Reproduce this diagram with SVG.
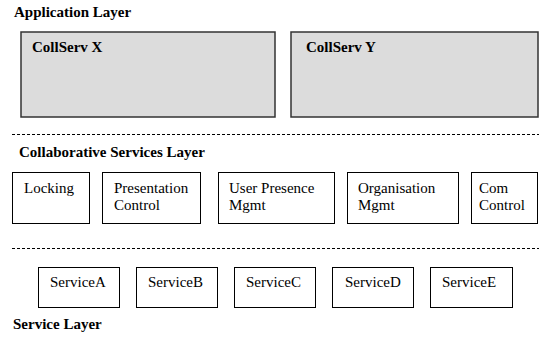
<svg xmlns="http://www.w3.org/2000/svg" width="539" height="345" viewBox="0 0 539 345">
<style>
  text { font-family: "Liberation Serif", "Times New Roman", serif; fill: #000; }
  .h { font-size: 15px; font-weight: bold; }
  .t { font-size: 15px; }
  .app { fill: #dcdcdc; stroke: #333; stroke-width: 1.5; }
  .box { fill: #fff; stroke: #000; stroke-width: 1; }
  .dash { stroke: #000; stroke-width: 1; stroke-dasharray: 3 2; fill: none; }
</style>
<rect width="539" height="345" fill="#fff"/>
<text class="h" x="14" y="17">Application Layer</text>
<g id="collserv-x">
  <rect class="app" x="21" y="32" width="254" height="85"/>
  <text class="h" x="32" y="52">CollServ X</text>
</g>
<g id="collserv-y">
  <rect class="app" x="291" y="32" width="247" height="85"/>
  <text class="h" x="306" y="52">CollServ Y</text>
</g>
<g id="separators">
  <line class="dash" x1="12" y1="134.5" x2="539" y2="134.5"/>
  <line class="dash" x1="12" y1="248.5" x2="539" y2="248.5"/>
</g>
<text class="h" x="19" y="157">Collaborative Services Layer</text>
<g id="locking">
  <rect class="box" x="12.5" y="172.5" width="77" height="51"/>
  <text class="t" x="24" y="193">Locking</text>
</g>
<g id="presentation-control">
  <rect class="box" x="102.5" y="172.5" width="98" height="51"/>
  <text class="t" x="114" y="193">Presentation</text>
  <text class="t" x="114" y="210">Control</text>
</g>
<g id="user-presence">
  <rect class="box" x="218.5" y="172.5" width="116" height="51"/>
  <text class="t" x="229" y="193">User Presence</text>
  <text class="t" x="229" y="210">Mgmt</text>
</g>
<g id="organisation">
  <rect class="box" x="347.5" y="172.5" width="111" height="51"/>
  <text class="t" x="358" y="193">Organisation</text>
  <text class="t" x="358" y="210">Mgmt</text>
</g>
<g id="com-control">
  <rect class="box" x="471.5" y="172.5" width="66" height="51"/>
  <text class="t" x="479" y="193">Com</text>
  <text class="t" x="479" y="210">Control</text>
</g>
<g id="serviceA">
  <rect class="box" x="38.5" y="267.5" width="81" height="40"/>
  <text class="t" x="50" y="287">ServiceA</text>
</g>
<g id="serviceB">
  <rect class="box" x="136.5" y="267.5" width="81" height="40"/>
  <text class="t" x="148" y="287">ServiceB</text>
</g>
<g id="serviceC">
  <rect class="box" x="234.5" y="267.5" width="81" height="40"/>
  <text class="t" x="246" y="287">ServiceC</text>
</g>
<g id="serviceD">
  <rect class="box" x="332.5" y="267.5" width="81" height="40"/>
  <text class="t" x="345" y="287">ServiceD</text>
</g>
<g id="serviceE">
  <rect class="box" x="430.5" y="267.5" width="82" height="40"/>
  <text class="t" x="442" y="287">ServiceE</text>
</g>
<text class="h" x="13" y="329">Service Layer</text>
<g id="connectors"></g>
</svg>
